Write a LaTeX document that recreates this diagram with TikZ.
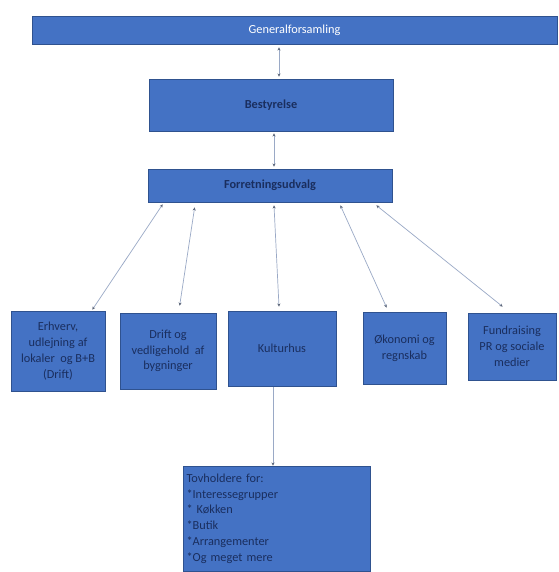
\documentclass[tikz,border=0pt]{standalone}
\usepackage{fontspec}
\setmainfont{Carlito}
\usetikzlibrary{arrows.meta}
\definecolor{boxfill}{HTML}{4472C4}
\definecolor{boxline}{HTML}{2F528F}
\definecolor{boxtext}{HTML}{1A2E5E}
\definecolor{conline}{HTML}{9AA9C6}
\definecolor{tipcol}{HTML}{5A6478}
\tikzset{
  orgbox/.style={draw=boxline, line width=0.7pt, fill=boxfill, inner sep=2pt,
    align=center, text=boxtext, font=\fontsize{12.3}{15.8}\selectfont},
  conn/.style={draw=conline, line width=0.7pt,
    {Stealth[length=3.2pt,width=3pt,color=tipcol]}-{Stealth[length=3.2pt,width=3pt,color=tipcol]}},
  conone/.style={draw=conline, line width=0.7pt,
    -{Stealth[length=3.2pt,width=3pt,color=tipcol]}}
}
\begin{document}
\begin{tikzpicture}[x=1pt,y=-1pt]
\useasboundingbox[fill=white] (0,0) rectangle (558,572);

\node[orgbox, text=white, minimum width=525pt, minimum height=28pt] (gf) at (294.5,30) {Generalforsamling};
\node[orgbox, font=\fontsize{12.3}{15.8}\selectfont\bfseries, minimum width=244pt, minimum height=52pt] (best) at (271,105) {Bestyrelse};
\node[orgbox, font=\fontsize{12.3}{15.8}\selectfont\bfseries, minimum width=244pt, minimum height=33pt] (forr) at (270,185.5) {Forretningsudvalg};

\node[orgbox, minimum width=94pt, minimum height=80pt] (erh) at (58,351) {Erhverv,\\ udlejning af\\ lokaler~~og B+B\\ (Drift)};
\node[orgbox, minimum width=96pt, minimum height=76pt] (drift) at (168,351) {Drift og\\ vedligehold~~af\\ bygninger};
\node[orgbox, minimum width=108pt, minimum height=75pt] (kult) at (282,348.5) {Kulturhus};
\node[orgbox, minimum width=83pt, minimum height=72pt] (oek) at (404.5,348) {Økonomi og\\ regnskab};
\node[orgbox, minimum width=88pt, minimum height=67pt] (fund) at (512,346.5) {Fundraising\\ PR og sociale\\ medier};

\node[orgbox, align=left, minimum width=187pt, minimum height=105pt, text width=180pt] (tov) at (276.5,518.5)
  {Tovholdere for:\\{*}Interessegrupper\\{*} Køkken\\{*}Butik\\{*}Arrangementer\\{*}Og meget mere};

\draw[conn] ([shift={(-15.5,3)}]gf.south) -- ([shift={(8,-2)}]best.north);
\draw[conn] ([shift={(3,2)}]best.south) -- ([shift={(4,-2)}]forr.north);

\draw[conn] ([shift={(15,2)}]forr.south west) -- ([shift={(-13,-1)}]erh.north east);
\draw[conn] ([shift={(47,5)}]forr.south west) -- ([shift={(60,-7)}]drift.north west);
\draw[conn] ([shift={(4,3)}]forr.south) -- ([shift={(-3,-4)}]kult.north);
\draw[conn] ([shift={(-52,3)}]forr.south east) -- ([shift={(24,-4)}]oek.north west);
\draw[conn] ([shift={(-16,3)}]forr.south east) -- ([shift={(35,-6)}]fund.north west);

\draw[conone] ([shift={(-9,1)}]kult.south) -- ([shift={(-3.5,0)}]tov.north);
\end{tikzpicture}
\end{document}
